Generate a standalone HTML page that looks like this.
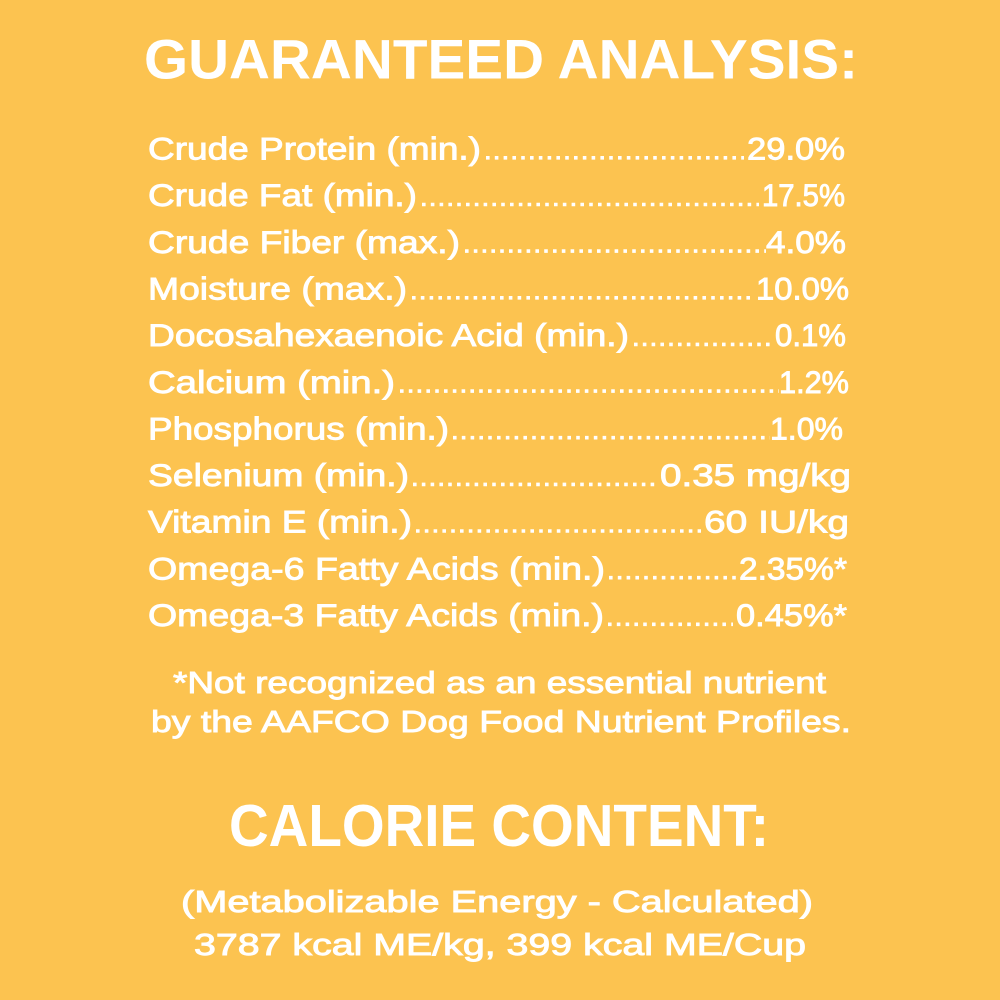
<!DOCTYPE html>
<html>
<head>
<meta charset="utf-8">
<style>
  html, body { margin: 0; padding: 0; background: #FCC350; }
  svg { display: block; }
  text { font-family: "Liberation Sans", "DejaVu Sans", sans-serif; fill: #ffffff; }
  .row { font-size: 31.5px; stroke: #ffffff; stroke-width: 0.9px; }
  .h { font-size: 56px; font-weight: bold; }
  .h2 { font-size: 59px; font-weight: bold; }
  .note { font-size: 30.5px; stroke: #ffffff; stroke-width: 0.9px; }
  .dots { stroke: #ffffff; stroke-width: 3.6; stroke-dasharray: 3.6 5.2; fill: none; }
</style>
</head>
<body>
<svg width="1000" height="1000" viewBox="0 0 1000 1000" xmlns="http://www.w3.org/2000/svg">
  <rect x="0" y="0" width="1000" height="1000" fill="#FCC350"/>

  <text class="h" x="144" y="78.5" textLength="714" lengthAdjust="spacingAndGlyphs">GUARANTEED ANALYSIS:</text>

  <!-- Row 1 -->
  <text class="row" x="148" y="159.5" textLength="333" lengthAdjust="spacingAndGlyphs">Crude Protein (min.)</text>
  <line class="dots" x1="486" y1="157.8" x2="744" y2="157.8"/>
  <text class="row" x="747" y="159.5" textLength="98" lengthAdjust="spacingAndGlyphs">29.0%</text>

  <!-- Row 2 -->
  <text class="row" x="148" y="206.2" textLength="269" lengthAdjust="spacingAndGlyphs">Crude Fat (min.)</text>
  <line class="dots" x1="422" y1="204.5" x2="759" y2="204.5"/>
  <text class="row" x="762" y="206.2" textLength="83" lengthAdjust="spacingAndGlyphs">17.5%</text>

  <!-- Row 3 -->
  <text class="row" x="148" y="252.8" textLength="312" lengthAdjust="spacingAndGlyphs">Crude Fiber (max.)</text>
  <line class="dots" x1="465" y1="251.1" x2="766" y2="251.1"/>
  <text class="row" x="766" y="252.8" textLength="80" lengthAdjust="spacingAndGlyphs">4.0%</text>

  <!-- Row 4 -->
  <text class="row" x="148" y="299.5" textLength="259" lengthAdjust="spacingAndGlyphs">Moisture (max.)</text>
  <line class="dots" x1="412" y1="297.8" x2="753" y2="297.8"/>
  <text class="row" x="756" y="299.5" textLength="93" lengthAdjust="spacingAndGlyphs">10.0%</text>

  <!-- Row 5 -->
  <text class="row" x="148" y="346.1" textLength="481" lengthAdjust="spacingAndGlyphs">Docosahexaenoic Acid (min.)</text>
  <line class="dots" x1="634" y1="344.4" x2="774" y2="344.4"/>
  <text class="row" x="775" y="346.1" textLength="71" lengthAdjust="spacingAndGlyphs">0.1%</text>

  <!-- Row 6 -->
  <text class="row" x="148" y="392.8" textLength="247" lengthAdjust="spacingAndGlyphs">Calcium (min.)</text>
  <line class="dots" x1="400" y1="391.1" x2="779" y2="391.1"/>
  <text class="row" x="779" y="392.8" textLength="70" lengthAdjust="spacingAndGlyphs">1.2%</text>

  <!-- Row 7 -->
  <text class="row" x="148" y="439.4" textLength="301" lengthAdjust="spacingAndGlyphs">Phosphorus (min.)</text>
  <line class="dots" x1="453" y1="437.7" x2="770" y2="437.7"/>
  <text class="row" x="770" y="439.4" textLength="73" lengthAdjust="spacingAndGlyphs">1.0%</text>

  <!-- Row 8 -->
  <text class="row" x="148" y="486.1" textLength="261" lengthAdjust="spacingAndGlyphs">Selenium (min.)</text>
  <line class="dots" x1="413" y1="484.4" x2="657" y2="484.4"/>
  <text class="row" x="660" y="486.1" textLength="191" lengthAdjust="spacingAndGlyphs">0.35 mg/kg</text>

  <!-- Row 9 -->
  <text class="row" x="148" y="532.7" textLength="264" lengthAdjust="spacingAndGlyphs">Vitamin E (min.)</text>
  <line class="dots" x1="416" y1="531" x2="701" y2="531"/>
  <text class="row" x="704" y="532.7" textLength="145" lengthAdjust="spacingAndGlyphs">60 IU/kg</text>

  <!-- Row 10 -->
  <text class="row" x="148" y="579.4" textLength="457" lengthAdjust="spacingAndGlyphs">Omega-6 Fatty Acids (min.)</text>
  <line class="dots" x1="609" y1="577.7" x2="736" y2="577.7"/>
  <text class="row" x="739" y="579.4" textLength="108" lengthAdjust="spacingAndGlyphs">2.35%*</text>

  <!-- Row 11 -->
  <text class="row" x="148" y="626" textLength="456" lengthAdjust="spacingAndGlyphs">Omega-3 Fatty Acids (min.)</text>
  <line class="dots" x1="608" y1="624.3" x2="733" y2="624.3"/>
  <text class="row" x="736" y="626" textLength="111" lengthAdjust="spacingAndGlyphs">0.45%*</text>

  <!-- Footnote -->
  <text class="note" x="173" y="693" textLength="653" lengthAdjust="spacingAndGlyphs">*Not recognized as an essential nutrient</text>
  <text class="note" x="151" y="732" textLength="700" lengthAdjust="spacingAndGlyphs">by the AAFCO Dog Food Nutrient Profiles.</text>

  <!-- Calorie content -->
  <text class="h2" x="229" y="846" textLength="540" lengthAdjust="spacingAndGlyphs">CALORIE CONTENT:</text>

  <text class="note" x="181" y="912" textLength="632" lengthAdjust="spacingAndGlyphs">(Metabolizable Energy - Calculated)</text>
  <text class="note" x="194" y="955" textLength="612" lengthAdjust="spacingAndGlyphs">3787 kcal ME/kg, 399 kcal ME/Cup</text>
</svg>
</body>
</html>
